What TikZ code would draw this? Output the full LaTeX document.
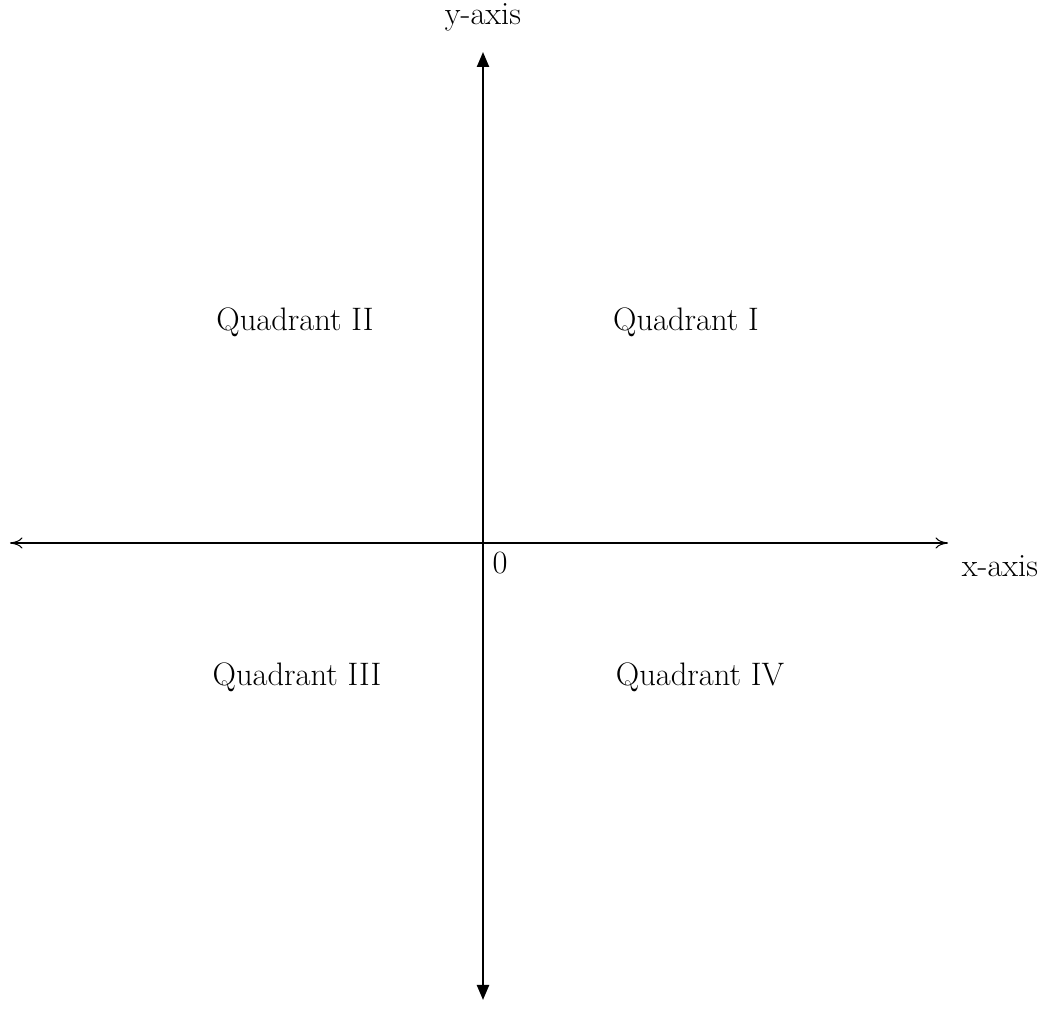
\documentclass[tikz,border=0pt]{standalone}
\usepackage{tikz}
\usetikzlibrary{arrows.meta,positioning}

\begin{document}
\begin{tikzpicture}[
  font=\fontsize{18.5}{22}\selectfont,
  label/.style={inner sep=1pt, anchor=center},
  yaxis/.style={{Triangle[length=3mm,width=2.4mm]}-{Triangle[length=3mm,width=2.4mm]}, line width=1.3pt},
  xaxis/.style={{To[length=2.5mm,width=2.2mm]}-{To[length=2.5mm,width=2.2mm]}, line width=0.6pt},
]
\useasboundingbox (-9.66,-9.76) rectangle (11.5,10.86);

% Axis end points
\coordinate (O) at (0,0);
\coordinate (ytop) at (0,9.82);
\coordinate (ybot) at (0,-9.14);
\coordinate (xleft) at (-9.46,0);
\coordinate (xright) at (9.3,0);

% Axes
\draw[xaxis] (xleft) -- (xright);
\draw[yaxis] (ybot) -- (ytop);

% Axis labels
\node[label] (ylab) at (0,10.52) {y-axis};
\node[label] (xlab) at (10.34,-0.46) {x-axis};
\node[label] (zero) at (0.34,-0.4) {0};

% Quadrants
\node[label] (q1) at (4.06,4.42) {Quadrant I};
\node[label] (q2) at (-3.76,4.42) {Quadrant II};
\node[label] (q3) at (-3.72,-2.68) {Quadrant III};
\node[label] (q4) at (4.34,-2.68) {Quadrant IV};
\end{tikzpicture}
\end{document}
